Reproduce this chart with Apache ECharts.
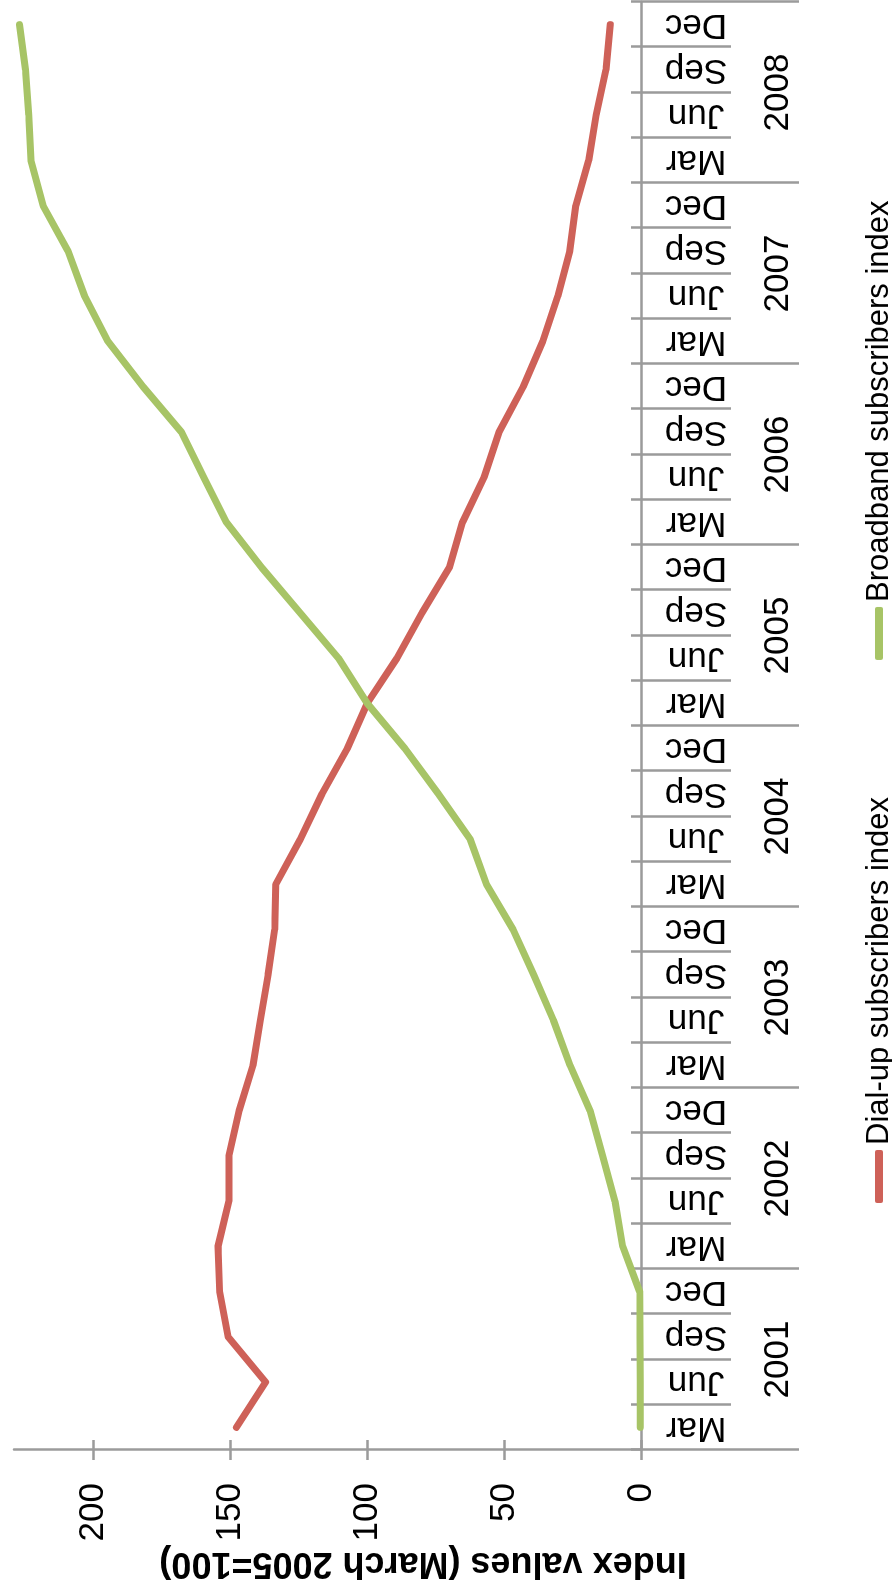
<!DOCTYPE html>
<html>
<head>
<meta charset="utf-8">
<script src="https://cdn.jsdelivr.net/npm/echarts@6/dist/echarts.min.js"></script>
<style>
html,body{margin:0;padding:0;overflow:hidden;background:#fff;width:892px;height:1594px;}
#chart{position:absolute;left:0;top:0;width:1594px;height:892px;transform-origin:0 0;transform:translateY(1594px) rotate(-90deg);background:#fff;}
</style>
</head>
<body>
<div id="chart"></div>
<script>
// ---- data (quarterly, Mar 2001 .. Dec 2008) ----
const quarterLabels = ['Mar', 'Jun', 'Sep', 'Dec'];
const years = ['2001', '2002', '2003', '2004', '2005', '2006', '2007', '2008'];
const dialUp = [
  147.8, 137.1, 150.8, 153.9,
  154.5, 150.5, 150.5, 146.8,
  141.7, 139.0, 136.2, 133.8,
  133.4, 124.4, 116.5, 107.3,
  100.0, 89.1, 80.0, 70.0,
  65.2, 57.3, 51.8, 43.0,
  35.9, 30.4, 26.0, 23.8,
  19.1, 16.4, 12.8, 11.2
];
const broadband = [
  0.3, 0.3, 0.4, 0.5,
  6.7, 9.5, 14.0, 18.6,
  25.9, 32.0, 39.2, 46.7,
  56.4, 62.4, 74.0, 86.2,
  100.0, 110.5, 124.5, 138.5,
  151.4, 159.7, 167.9, 181.9,
  194.7, 203.2, 209.3, 218.4,
  222.8, 223.6, 224.8, 227.0
];
const valueTicks = [0, 50, 100, 150, 200];
const seriesNames = ['Dial-up subscribers index', 'Broadband subscribers index'];
const axisTitle = 'Index values (March 2005=100)';

// ---- build ----
const categories = [];
years.forEach(y => quarterLabels.forEach(q => categories.push(q + ' ' + y)));

const FONT = '"Liberation Sans", Arial, Helvetica, sans-serif';
const AXIS = '#9b9b9b';
const lineSty = { color: AXIS, width: 2.5 };

const chart = echarts.init(document.getElementById('chart'), null, { renderer: 'canvas' });
chart.setOption({
  animation: false,
  backgroundColor: '#fff',
  grid: { left: 144, right: 2, top: 14, bottom: 251, containLabel: false, outerBoundsMode: 'none' },
  legend: {
    left: 386, top: 858,
    itemWidth: 53, itemHeight: 8, itemGap: 137,
    icon: 'roundRect',
    textStyle: { fontSize: 31, lineHeight: 32, color: '#000', fontFamily: FONT },
    data: seriesNames
  },
  graphic: [{
    type: 'text',
    x: 31, y: 423,
    rotation: Math.PI / 2,
    style: {
      text: axisTitle,
      fill: '#000',
      font: 'bold 36px ' + FONT,
      align: 'center',
      verticalAlign: 'middle'
    }
  }],
  xAxis: [
    {
      type: 'category', data: categories, position: 'bottom', boundaryGap: true,
      axisLine: { show: true, lineStyle: lineSty },
      axisTick: { show: true, interval: 0, length: 90, lineStyle: lineSty },
      axisLabel: {
        interval: 0, rotate: 90, align: 'center', verticalAlign: 'middle', margin: 55,
        fontSize: 35, color: '#000', fontFamily: FONT,
        formatter: v => v.split(' ')[0]
      },
      splitLine: { show: false }
    },
    {
      type: 'category', data: categories, position: 'bottom', boundaryGap: true,
      axisLine: { show: false },
      axisTick: { show: true, inside: true, interval: 0, length: 10, lineStyle: lineSty },
      axisLabel: { show: false },
      splitLine: { show: false }
    },
    {
      type: 'category', data: years, position: 'bottom', boundaryGap: true,
      axisLine: { show: false },
      axisTick: { show: true, interval: 0, length: 158, lineStyle: lineSty },
      axisLabel: {
        interval: 0, margin: 137, verticalAlign: 'middle',
        fontSize: 35, color: '#000', fontFamily: FONT
      },
      splitLine: { show: false }
    }
  ],
  yAxis: [
    {
      type: 'value', min: 0, max: 229, interval: 50, position: 'left',
      axisLine: { show: true, lineStyle: lineSty },
      axisTick: { show: true, length: 10, lineStyle: lineSty, customValues: valueTicks },
      axisLabel: {
        customValues: valueTicks, margin: 33,
        fontSize: 35, color: '#000', fontFamily: FONT, padding: [7, 0, 0, 0]
      },
      splitLine: { show: false }
    },
    {
      type: 'value', min: 0, max: 229, interval: 50, position: 'left',
      axisLine: { show: false },
      axisTick: { show: true, inside: true, length: 10, lineStyle: lineSty, customValues: valueTicks },
      axisLabel: { show: false },
      splitLine: { show: false }
    }
  ],
  series: [
    {
      name: seriesNames[0], type: 'line', data: dialUp,
      xAxisIndex: 0, yAxisIndex: 0,
      symbol: 'none', smooth: false,
      color: '#CE6158',
      lineStyle: { color: '#CE6158', width: 7, cap: 'round', join: 'round' },
      itemStyle: { color: '#CE6158' }
    },
    {
      name: seriesNames[1], type: 'line', data: broadband,
      xAxisIndex: 0, yAxisIndex: 0,
      symbol: 'none', smooth: false,
      color: '#A7C466',
      lineStyle: { color: '#A7C466', width: 7, cap: 'round', join: 'round' },
      itemStyle: { color: '#A7C466' }
    }
  ]
});
</script>
</body>
</html>
